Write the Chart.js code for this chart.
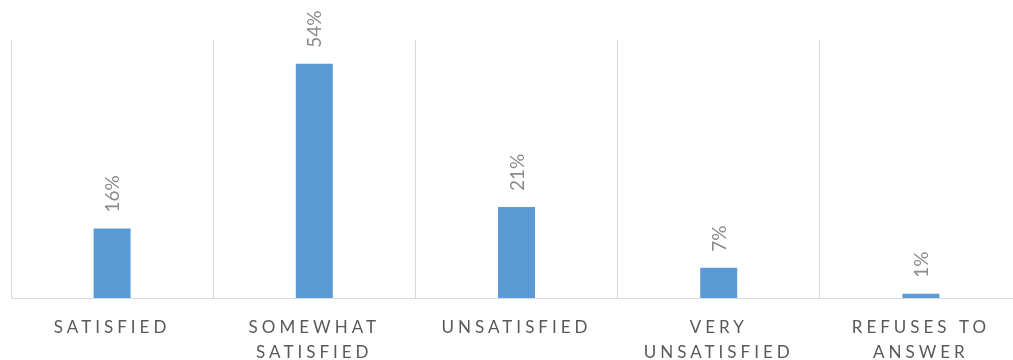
<!DOCTYPE html>
<html>
<head>
<meta charset="utf-8">
<script src="https://cdn.jsdelivr.net/npm/chart.js@4/dist/chart.umd.min.js"></script>
<style>
  html, body { margin: 0; padding: 0; background: #ffffff; overflow: hidden; }
  #wrap { position: relative; width: 1024px; height: 360px; }
</style>
</head>
<body>
<div id="wrap"><canvas id="chart"></canvas></div>
<script>
// Survey answers and their shares (percent)
const categories = [
  ['SATISFIED'],
  ['SOMEWHAT', 'SATISFIED'],
  ['UNSATISFIED'],
  ['VERY', 'UNSATISFIED'],
  ['REFUSES TO', 'ANSWER']
];
const shares = [16, 54, 21, 7, 1];

const BAR_BLUE = '#5B9BD5';
const GRID_GREY = '#D9D9D9';

// Spaced-out capitals for the category axis, plain spacing for the value labels
const letterSpacingPlugin = {
  id: 'letterSpacing',
  beforeDraw(chart) {
    chart.ctx.letterSpacing = '4px';
  }
};

const valueLabels = {
  id: 'valueLabels',
  afterDatasetsDraw(chart) {
    const ctx = chart.ctx;
    const meta = chart.getDatasetMeta(0);
    ctx.save();
    ctx.letterSpacing = '0px';
    ctx.font = '19px Lato';
    ctx.fillStyle = '#8C8C8C';
    ctx.textAlign = 'left';
    ctx.textBaseline = 'middle';
    meta.data.forEach((bar, i) => {
      ctx.save();
      ctx.translate(bar.x + 1, bar.y - 16);
      ctx.rotate(-Math.PI / 2);
      ctx.fillText(shares[i] + '%', 0, 0);
      ctx.restore();
    });
    ctx.restore();
  }
};

new Chart(document.getElementById('chart'), {
  type: 'bar',
  data: {
    labels: categories,
    datasets: [{
      data: shares,
      backgroundColor: BAR_BLUE,
      borderWidth: 0,
      categoryPercentage: 1,
      barPercentage: 0.183
    }]
  },
  options: {
    responsive: true,
    maintainAspectRatio: false,
    animation: false,
    layout: { padding: { top: 40, left: 11, right: 2, bottom: 0 } },
    plugins: {
      legend: { display: false },
      tooltip: { enabled: false }
    },
    scales: {
      x: {
        grid: { color: GRID_GREY, lineWidth: 1, drawTicks: false, offset: true },
        border: { color: GRID_GREY, width: 1 },
        ticks: {
          color: '#595959',
          font: { family: 'Lato', size: 17, lineHeight: '25px' },
          padding: 17,
          maxRotation: 0,
          autoSkip: false
        },
        afterFit(scale) { scale.height = 62; }
      },
      y: {
        display: false,
        min: 0,
        max: 59.5
      }
    }
  },
  plugins: [letterSpacingPlugin, valueLabels]
});
</script>
</body>
</html>
